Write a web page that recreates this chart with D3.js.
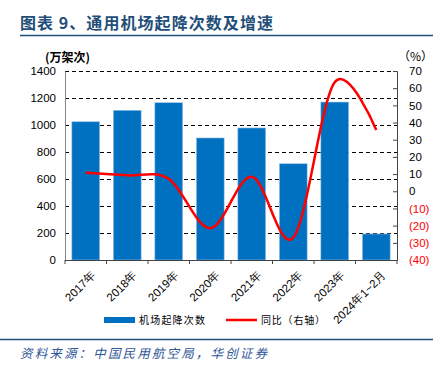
<!DOCTYPE html>
<html>
<head>
<meta charset="utf-8">
<script src="https://cdn.jsdelivr.net/npm/d3@7"></script>
<style>
  body { margin: 0; background: #fff; }
  svg { display: block; font-family: "Liberation Sans", Arial, sans-serif; }
</style>
</head>
<body>
<div id="chart"></div>
<script>
// data
var categories = ['2017年', '2018年', '2019年', '2020年', '2021年', '2022年', '2023年', '2024年1~2月'];
var flights = [1024, 1109, 1165, 904, 978, 713, 1170, 193];
var growth = [10.8, 9.3, 7.2, -21.5, 8.5, -27.0, 63.5, 35.7];
var leftTicks = [0, 200, 400, 600, 800, 1000, 1200, 1400];
var rightTicks = [70, 60, 50, 40, 30, 20, 10, 0, -10, -20, -30, -40];

var state = {
    width: 442,
    height: 374,
    barColor: '#0070C0',
    lineColor: '#FF0000',
    titleColor: '#1F4E79',
    left: 65,
    right: 397,
    top: 71,
    bottom: 260
};

var svg = d3.select('#chart')
    .append('svg')
        .attr('width', state.width)
        .attr('height', state.height);

// title + rules
svg.append('text')
    .attr('x', 20)
    .attr('y', 29)
    .attr('textLength', 253)
    .attr('lengthAdjust', 'spacing')
    .style('font-family', '"Noto Sans CJK SC", sans-serif')
    .style('font-weight', 'bold')
    .style('font-size', '16px')
    .style('fill', state.titleColor)
    .text('图表 9、通用机场起降次数及增速');

svg.append('line')
    .attr('x1', 20).attr('x2', 433)
    .attr('y1', 35.5).attr('y2', 35.5)
    .style('stroke', state.titleColor)
    .style('stroke-width', 1.5);

svg.append('line')
    .attr('x1', 0).attr('x2', 433)
    .attr('y1', 339.5).attr('y2', 339.5)
    .style('stroke', state.titleColor)
    .style('stroke-width', 1.5);

svg.append('text')
    .attr('x', 20)
    .attr('y', 358)
    .attr('textLength', 247)
    .attr('lengthAdjust', 'spacing')
    .style('font-family', '"Noto Sans CJK SC", sans-serif')
    .style('font-style', 'italic')
    .style('font-size', '12.5px')
    .style('fill', '#2F5597')
    .text('资料来源：中国民用航空局，华创证券');

// scales
var x = d3.scaleBand()
    .domain(categories)
    .range([state.left, state.right])
    .paddingInner(0.33)
    .paddingOuter(0.165);

var yLeft = d3.scaleLinear()
    .domain([0, 1400])
    .range([state.bottom, state.top]);

var yRight = d3.scaleLinear()
    .domain([-40, 70])
    .range([state.bottom, state.top]);

// dashed gridlines
svg.append('g')
    .selectAll('line')
    .data(leftTicks.filter(function(d){ return d > 0; }))
    .enter()
    .append('line')
        .attr('x1', state.left)
        .attr('x2', state.right)
        .attr('y1', function(d){ return Math.round(yLeft(d)) + 0.5; })
        .attr('y2', function(d){ return Math.round(yLeft(d)) + 0.5; })
        .style('stroke', '#000')
        .style('stroke-width', 1)
        .style('stroke-dasharray', '4,3');

// bars
svg.append('g')
    .selectAll('rect')
    .data(flights)
    .enter()
    .append('rect')
        .attr('x', function(d, i){ return x(categories[i]); })
        .attr('y', function(d){ return yLeft(d); })
        .attr('width', x.bandwidth())
        .attr('height', function(d){ return state.bottom - yLeft(d); })
        .style('fill', state.barColor)
        .style('stroke', '#9DC3E6')
        .style('stroke-width', 0.6);

// left axis
var leftAxis = svg.append('g')
    .attr('transform', 'translate(' + state.left + ',0)')
    .call(d3.axisLeft(yLeft).tickValues(leftTicks).tickSize(0).tickPadding(9)
        .tickFormat(d3.format('d')));
leftAxis.select('.domain').style('stroke', '#888');
leftAxis.selectAll('text')
    .style('font-size', '11.5px')
    .style('fill', '#000');

// right axis
var rightAxis = svg.append('g')
    .attr('transform', 'translate(' + state.right + ',0)')
    .call(d3.axisRight(yRight).tickValues(rightTicks).tickSize(-4).tickPadding(12)
        .tickFormat(function(d){ return d < 0 ? '(' + (-d) + ')' : d; }));
rightAxis.select('.domain').style('stroke', '#444');
rightAxis.selectAll('line').style('stroke', '#444');
rightAxis.selectAll('text')
    .attr('text-anchor', 'start')
    .style('font-size', '11.5px')
    .style('fill', function(d){ return d < 0 ? '#FF0000' : '#000'; });

// bottom axis
var bottom = svg.append('g');
bottom.append('line')
    .attr('x1', state.left).attr('x2', state.right)
    .attr('y1', state.bottom + 0.5).attr('y2', state.bottom + 0.5)
    .style('stroke', '#444');
bottom.selectAll('.tick')
    .data(d3.range(categories.length + 1))
    .enter()
    .append('line')
        .attr('x1', function(d){ return state.left + d * x.step(); })
        .attr('x2', function(d){ return state.left + d * x.step(); })
        .attr('y1', state.bottom)
        .attr('y2', state.bottom + 4)
        .style('stroke', '#444');
bottom.selectAll('text')
    .data(categories)
    .enter()
    .append('text')
        .attr('transform', function(d){
            return 'translate(' + (x(d) + x.bandwidth() / 2 + 5) + ',' + (state.bottom + 10) + ') rotate(-45)';
        })
        .attr('text-anchor', 'end')
        .attr('dy', '0.7em')
        .style('font-size', '11.5px')
        .style('fill', '#000')
        .text(function(d){ return d; });

// growth line
var line = d3.line()
    .x(function(d, i){ return x(categories[i]) + x.bandwidth() / 2; })
    .y(function(d){ return yRight(d); })
    .curve(d3.curveCardinal.tension(0));

svg.append('path')
    .datum(growth)
    .attr('d', line)
    .style('fill', 'none')
    .style('stroke', state.lineColor)
    .style('stroke-width', 2.5);

// unit labels
svg.append('text')
    .attr('x', 45).attr('y', 62)
    .style('font-family', '"Noto Sans CJK SC", sans-serif')
    .style('font-weight', 'bold')
    .style('font-size', '12px')
    .text('(万架次)');

svg.append('text')
    .attr('x', 398).attr('y', 61)
    .style('font-family', '"Noto Sans CJK SC", sans-serif')
    .style('font-size', '12px')
    .text('（%）');

// legend
var legend = svg.append('g')
    .style('font-family', '"Noto Sans CJK SC", sans-serif')
    .style('font-size', '10px');
legend.append('rect')
    .attr('x', 104).attr('y', 317)
    .attr('width', 31).attr('height', 6)
    .style('fill', state.barColor);
legend.append('text')
    .attr('x', 139).attr('y', 324)
    .attr('textLength', 66)
    .attr('lengthAdjust', 'spacing')
    .text('机场起降次数');
legend.append('line')
    .attr('x1', 226).attr('x2', 257)
    .attr('y1', 320).attr('y2', 320)
    .style('stroke', state.lineColor)
    .style('stroke-width', 2.5);
legend.append('text')
    .attr('x', 261).attr('y', 324)
    .attr('textLength', 64)
    .attr('lengthAdjust', 'spacing')
    .text('同比（右轴）');
</script>
</body>
</html>
